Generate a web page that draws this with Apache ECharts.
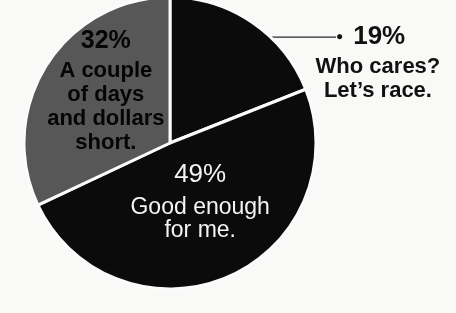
<!DOCTYPE html>
<html>
<head>
<meta charset="utf-8">
<title>Pie</title>
<style>
  html, body { margin: 0; padding: 0; background: #f9f9f8; }
  #chart { width: 456px; height: 313px; }
</style>
</head>
<body>
<div id="chart"></div>
<script src="https://cdn.jsdelivr.net/npm/echarts@6/dist/echarts.min.js"></script>
<script>
  // slices, clockwise from 12 o'clock
  var shares = [19, 49, 32];
  var pctLabels = ['19%', '49%', '32%'];
  var captions = [
    ['Who cares?', 'Let’s race.'],
    ['Good enough', 'for me.'],
    ['A couple', 'of days', 'and dollars', 'short.']
  ];
  var sliceColors = ['#0b0b0b', '#0b0b0b', '#575757'];

  var font = '"Liberation Sans", Arial, sans-serif';

  function captionText(i) {
    return captions[i].map(function (s) { return '{t|' + s + '}'; }).join('\n');
  }

  var labels = [
    {
      position: 'outside',
      distanceToLabelLine: 0,
      padding: [48, 0, 0, 0],
      formatter: '{dot|●}{pct|' + pctLabels[0] + '}\n' + captionText(0),
      rich: {
        dot: { fontSize: 12, color: '#111', align: 'left', lineHeight: 36 },
        pct: { fontSize: 26, fontWeight: 'bold', color: '#111', fontFamily: font, align: 'left', padding: [0, 0, 0, 10], lineHeight: 36 },
        t: { fontSize: 22, fontWeight: 'bold', color: '#111', fontFamily: font, align: 'center', width: 84, lineHeight: 24 }
      }
    },
    {
      position: 'inside',
      padding: [0, 0, 30, 0],
      formatter: '{p|' + pctLabels[1] + '}\n' + captionText(1),
      rich: {
        p: { fontSize: 26, color: '#f4f4f4', fontFamily: font, align: 'center', lineHeight: 42 },
        t: { fontSize: 23, color: '#f4f4f4', fontFamily: font, align: 'center', lineHeight: 23 }
      }
    },
    {
      position: 'inside',
      padding: [0, 0, 27, 0],
      formatter: '{p|' + pctLabels[2] + '}\n' + captionText(2),
      rich: {
        p: { fontSize: 25, fontWeight: 'bold', color: '#050505', fontFamily: font, align: 'center', lineHeight: 36 },
        t: { fontSize: 22, fontWeight: 'bold', color: '#050505', fontFamily: font, align: 'center', lineHeight: 24 }
      }
    }
  ];

  var data = shares.map(function (v, i) {
    return {
      value: v,
      name: pctLabels[i],
      itemStyle: { color: sliceColors[i] },
      label: labels[i],
      labelLine: { show: i === 0 }
    };
  });

  var chart = echarts.init(document.getElementById('chart'));
  chart.setOption({
    backgroundColor: '#f9f9f8',
    animation: false,
    series: [{
      type: 'pie',
      center: [170, 143],
      radius: 146,
      startAngle: 90,
      clockwise: true,
      avoidLabelOverlap: false,
      silent: true,
      itemStyle: { borderColor: '#fbfbfb', borderWidth: 3 },
      label: { show: true, fontFamily: font },
      labelLine: {
        length: -18,
        length2: 94,
        minTurnAngle: 0,
        maxSurfaceAngle: 0,
        lineStyle: { color: '#2a2a2a', width: 1.3 }
      },
      data: data
    }]
  });
</script>
</body>
</html>
